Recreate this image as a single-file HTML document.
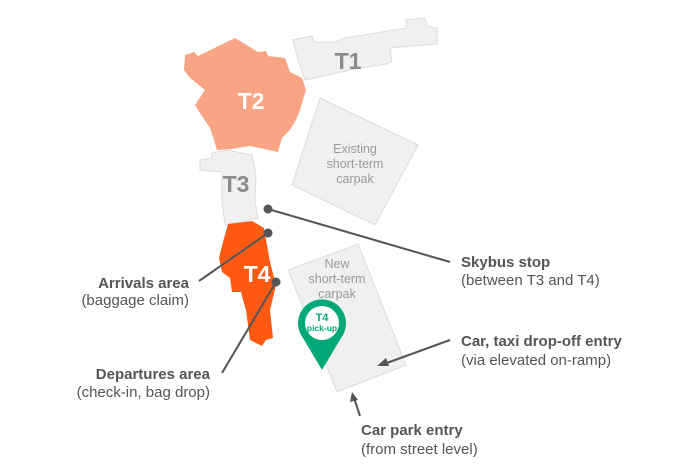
<!DOCTYPE html>
<html><head><meta charset="utf-8"><style>
body{margin:0;background:#fff}
svg{display:block;font-family:"Liberation Sans",Arial,sans-serif}
</style></head><body>
<svg width="682" height="476" viewBox="0 0 682 476">
<!-- T1 -->
<polygon points="293,40 312,36 314,42 335,42 345,38 370,34 406,28 406,20 425,18 427,26 437,28 437,44 400,47 390,48 392,62 386,64 350,70 305,80 298,60" fill="#f0f0f0" stroke="#dcdcdc"/>
<text x="348" y="69" font-size="23" font-weight="bold" fill="#8a8a8a" text-anchor="middle">T1</text>
<!-- T2 -->
<polygon points="185,55 194,52 198,56 235,38 258,52 266,51 268,56 285,58 290,72 302,78 306,90 303,100 300,110 296,120 290,130 282,138 278,152 250,146 232,149 217,150 214,140 210,128 200,113 195,105 205,90 190,78 184,70" fill="#f9a585"/>
<text x="251" y="109" font-size="23" font-weight="bold" fill="#fff" text-anchor="middle">T2</text>
<!-- T3 -->
<polygon points="200,160 212,158 212,153 228,150 252,155 256,175 255,200 258,218 225,225 222,200 222,172 200,170" fill="#f0f0f0" stroke="#dcdcdc"/>
<text x="236" y="192" font-size="23" font-weight="bold" fill="#8a8a8a" text-anchor="middle">T3</text>
<!-- Existing carpark -->
<polygon points="320,98 418,145 375,225 292,185" fill="#f0f0f0" stroke="#dcdcdc"/>
<text fill="#999" font-size="12.5" text-anchor="middle"><tspan x="355" y="153">Existing</tspan><tspan x="355" y="168">short-term</tspan><tspan x="355" y="183">carpak</tspan></text>
<!-- T4 -->
<polygon points="228,224 252,221 264,228 270,262 276,285 270,310 273,338 266,340 262,346 250,340 246,310 243,300 241,292 232,292 230,278 222,272 219,258 223,242" fill="#ff5a14"/>
<text x="257" y="282" font-size="23" font-weight="bold" fill="#fff" text-anchor="middle">T4</text>
<!-- New carpark -->
<polygon points="288,270 358,244 406,365 337,392" fill="#f0f0f0" stroke="#dcdcdc"/>
<text fill="#999" font-size="12.5" text-anchor="middle"><tspan x="337" y="268">New</tspan><tspan x="337" y="283">short-term</tspan><tspan x="337" y="298">carpak</tspan></text>
<!-- pin -->
<path d="M322,370 L303,338 A24,24 0 1 1 341,338 Z" fill="#00a878"/>
<circle cx="322" cy="323" r="17" fill="#fff"/>
<text x="322" y="321" font-size="11" font-weight="bold" fill="#00a878" text-anchor="middle">T4</text>
<text x="322" y="331" font-size="8.5" font-weight="bold" fill="#00a878" text-anchor="middle">pick-up</text>
<!-- connectors -->
<g stroke="#555" stroke-width="2" fill="none">
<line x1="268" y1="209" x2="450" y2="262"/>
<line x1="268" y1="233" x2="199" y2="281"/>
<line x1="276" y1="282" x2="222" y2="373"/>
<line x1="450" y1="340" x2="384" y2="364"/>
<line x1="360" y1="416" x2="354" y2="398"/>
</g>
<g fill="#555">
<circle cx="268" cy="209" r="4.5"/><circle cx="268" cy="233" r="4.5"/><circle cx="276" cy="282" r="4.5"/>
<polygon points="377,366 386,358 389,366"/>
<polygon points="352,392 350,402 358,400"/>
</g>
<g fill="#555" font-size="15">
<text x="461" y="267" font-weight="bold">Skybus stop</text>
<text x="461" y="285">(between T3 and T4)</text>
<text x="461" y="346" font-weight="bold">Car, taxi drop-off entry</text>
<text x="461" y="365">(via elevated on-ramp)</text>
<text x="361" y="435" font-weight="bold">Car park entry</text>
<text x="361" y="454">(from street level)</text>
<text x="189" y="288" font-weight="bold" text-anchor="end">Arrivals area</text>
<text x="189" y="305" text-anchor="end">(baggage claim)</text>
<text x="210" y="379" font-weight="bold" text-anchor="end">Departures area</text>
<text x="210" y="397" text-anchor="end">(check-in, bag drop)</text>
</g>
</svg>
</body></html>
